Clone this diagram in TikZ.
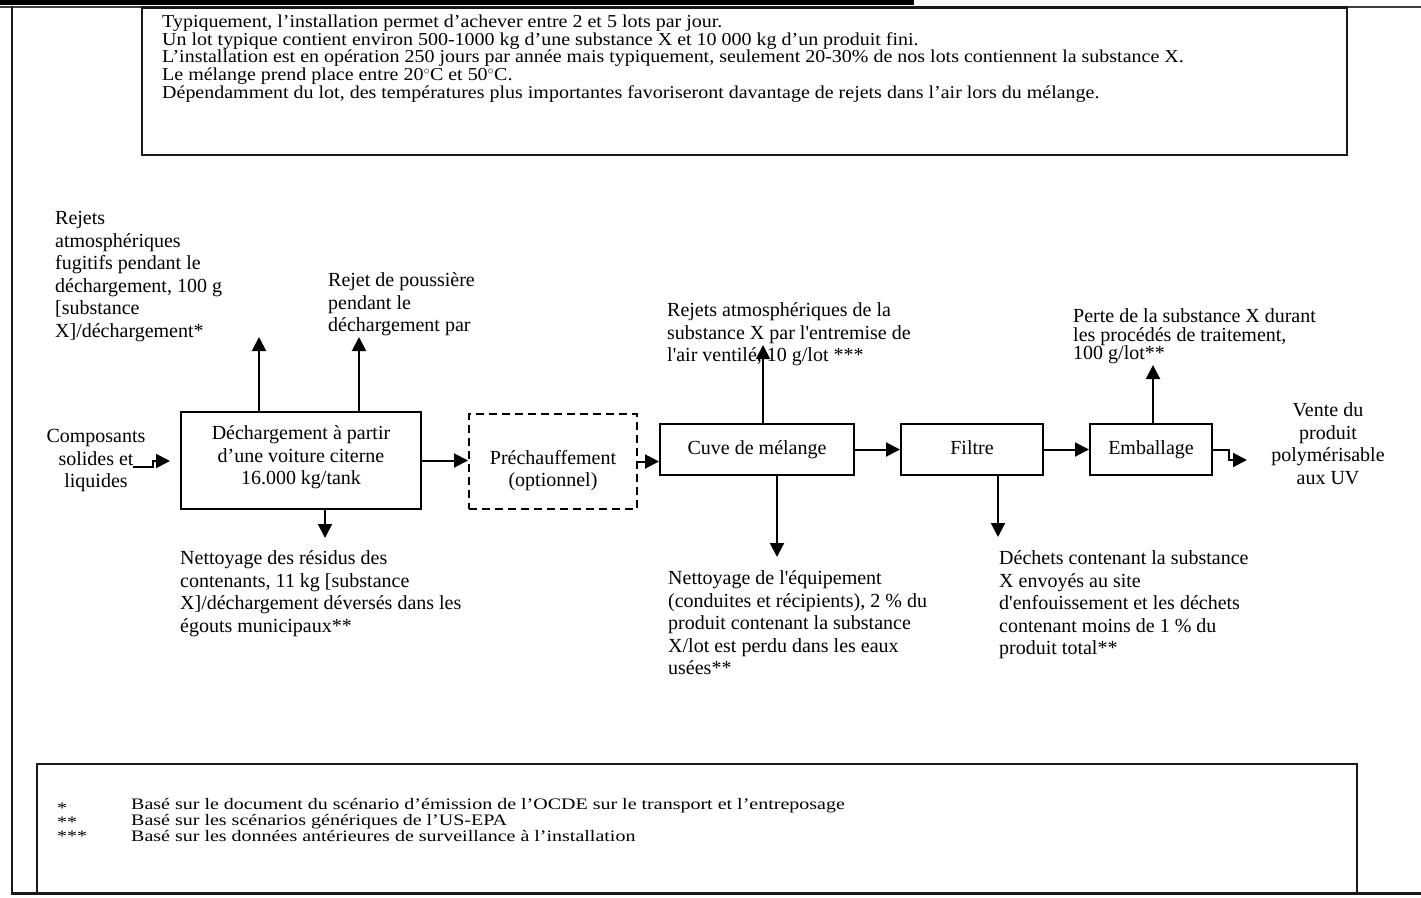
\documentclass[tikz,border=0pt]{standalone}
\usepackage{fontspec}
\usetikzlibrary{arrows.meta}
\newfontfamily\serifA{Liberation Serif}
\newfontfamily\serifW{Liberation Serif}[FakeStretch=1.098]
\newfontfamily\serifF{Liberation Serif}[FakeStretch=1.25]
\tikzset{
  dfont/.style={font=\serifA\fontsize{20}{22.6}\selectfont},
  box/.style={draw, line width=2pt, rectangle, inner sep=0pt, align=center, dfont},
  onebox/.style={box, text height=13.7pt, text depth=4.3pt},
  arr/.style={line width=2pt, -{Triangle[length=14pt,width=14pt]}},
  lbl/.style={inner sep=0pt, align=left, anchor=base west, dfont},
  frame/.style={line width=2.5pt, black!90},
}
\begin{document}
\begin{tikzpicture}[x=1pt,y=-1pt]
\useasboundingbox (0,0) rectangle (1421,897);
% page frame
\fill[black] (0,0) rectangle (914,4.5);
\draw[line width=2pt, black!75] (0,6.5) -- (1421,6.5);
\draw[frame] (12,5.5) -- (12,893.5) -- (1421,893.5);
% top information box (anchors give the baseline of the last line)
\draw[frame] (142,7.5) rectangle (1347,155);
\node[inner sep=0pt, align=left, anchor=base west,
      font=\serifW\fontsize{18.2}{16.3}\selectfont] (info) at (162,98.2)
{Typiquement, l’installation permet d’achever entre 2 et 5 lots par jour.\\
Un lot typique contient environ 500-1000 kg d’une substance X et 10 000 kg d’un produit fini.\\
L’installation est en opération 250 jours par année mais typiquement, seulement 20-30\% de nos lots contiennent la substance X.\\
Le mélange prend place entre 20$^\circ$C et 50$^\circ$C.\\
Dépendamment du lot, des températures plus importantes favoriseront davantage de rejets dans l’air lors du mélange.};
% footnote box
\draw[frame] (37,764) rectangle (1357,893.5);
\node[inner sep=0pt, align=left, anchor=base west,
      font=\serifF\fontsize{16}{14}\selectfont] (stars) at (57,841)
{*\\**\\***};
\node[inner sep=0pt, align=left, anchor=base west,
      font=\serifF\fontsize{16}{14}\selectfont] (notes) at (131,841)
{Basé sur le document du scénario d’émission de l’OCDE sur le transport et l’entreposage\\
Basé sur les scénarios génériques de l’US-EPA\\
Basé sur les données antérieures de surveillance à l’installation};
% process boxes
\node[box, minimum width=240pt, minimum height=97pt] (dech) at (301,460.5) {};
\node[dfont, align=center, inner sep=0pt] (dechtxt) at ([yshift=3pt]dech.center)
  {Déchargement à partir\\d’une voiture citerne\\16.000 kg/tank};
\node[box, dash pattern=on 8pt off 5pt, minimum width=168pt, minimum height=95pt] (pre) at (553,461.5) {};
\node[dfont, align=center, inner sep=0pt] (pretxt) at ([yshift=-9pt]pre.center)
  {Préchauffement\\(optionnel)};
\node[onebox, minimum width=194pt, minimum height=51pt] (cuve) at (757,449.5) {Cuve de mélange};
\node[onebox, minimum width=142pt, minimum height=51pt] (filtre) at (972,449.5) {Filtre};
\node[onebox, minimum width=122pt, minimum height=51pt] (emb) at (1151,449.5) {Emballage};
% labels
\node[lbl] (rej1) at (55,337.5)
  {Rejets\\atmosphériques\\fugitifs pendant le\\déchargement, 100 g\\{[}substance\\X]/déchargement*};
\node[lbl] (rej2) at (328,331.7)
  {Rejet de poussière\\pendant le\\déchargement par};
\node[lbl, align=center, anchor=base] (comp) at (96,487.7)
  {Composants\\solides et\\liquides};
\node[lbl] (rej3) at (667,361.7)
  {Rejets atmosphériques de la\\substance X par l'entremise de\\l'air ventilé, 10 g/lot ***};
\node[lbl, font=\serifA\fontsize{20}{18.5}\selectfont] (perte) at (1073,359.5)
  {Perte de la substance X durant\\les procédés de traitement,\\100 g/lot**};
\node[lbl, align=center, anchor=base] (vente) at (1328,484.3)
  {Vente du\\produit\\polymérisable\\aux UV};
\node[lbl] (net1) at (180,632.3)
  {Nettoyage des résidus des\\contenants, 11 kg [substance\\X]/déchargement déversés dans les\\égouts municipaux**};
\node[lbl] (net2) at (668,674.9)
  {Nettoyage de l'équipement\\(conduites et récipients), 2 \% du\\produit contenant la substance\\X/lot est perdu dans les eaux\\usées**};
\node[lbl] (dechets) at (999,654.9)
  {Déchets contenant la substance\\X envoyés au site\\d'enfouissement et les déchets\\contenant moins de 1 \% du\\produit total**};
% connector ends
\coordinate (t1) at (259,337);
\coordinate (t2) at (359,337);
\coordinate (t3) at (325,538);
\coordinate (t4) at (763,345);
\coordinate (t5) at (777,557);
\coordinate (t6) at (998,537);
\coordinate (t7) at (1153,365);
\coordinate (cin) at (133,467);
\coordinate (cend) at (170,461);
\coordinate (vout) at (1247,460);
% connectors
\draw[arr] (cin) -- ++(20,0) -- ++(0,-6) -- (cend);
\draw[arr] (dech.north -| t1) -- (t1);
\draw[arr] (dech.north -| t2) -- (t2);
\draw[arr] (dech.south -| t3) -- (t3);
\draw[arr] (dech.east) -- (pre.west |- dech.east);
\draw[arr] (pre.east) -- (cuve.west |- pre.east);
\draw[arr] (cuve.north -| t4) -- (t4);
\draw[arr] (cuve.south -| t5) -- (t5);
\draw[arr] (cuve.east) -- (filtre.west);
\draw[arr] (filtre.south -| t6) -- (t6);
\draw[arr] (filtre.east) -- (emb.west);
\draw[arr] (emb.north -| t7) -- (t7);
\draw[arr] (emb.east) -- ++(16,0) |- (vout);
\end{tikzpicture}
\end{document}
